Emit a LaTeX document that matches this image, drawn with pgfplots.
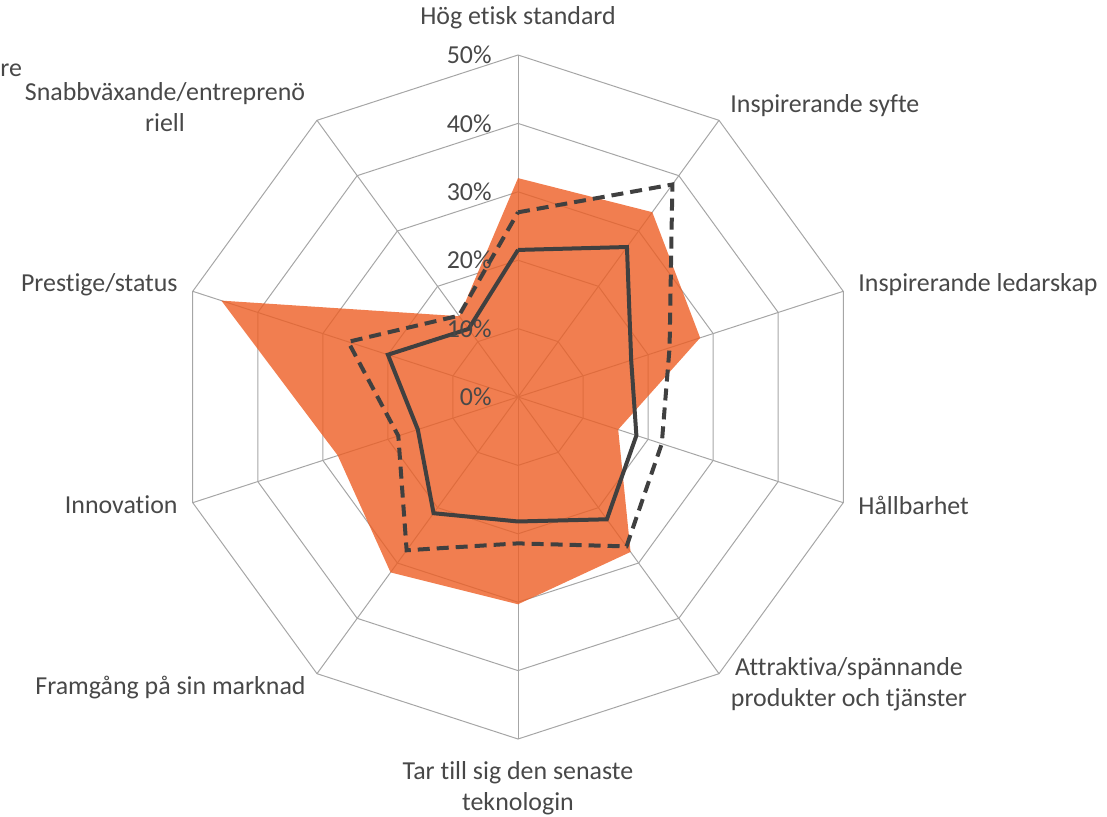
\documentclass[border=0pt]{standalone}
\usepackage{fontspec}
\setmainfont{Carlito}[Ligatures={NoCommon,NoContextual}]
\usepackage{pgfplots}
\usepackage{pgfplotstable}
\pgfplotsset{compat=1.18}

\definecolor{txt}{HTML}{484848}
\definecolor{gridc}{HTML}{A6A6A6}
\definecolor{fillc}{RGB}{237,94,36}
\definecolor{linec}{HTML}{404040}

% values in percent, clockwise from "Hög etisk standard"; last row repeats the first
\pgfplotstableread{
cat area dashed solid
0 32.0 27.0 21.5
1 33.4 38.4 27.1
2 28.0 23.3 17.4
3 15.4 22.1 18.2
4 28.0 27.0 22.1
5 30.3 21.4 18.2
6 31.7 27.7 21.0
7 27.7 18.4 15.4
8 45.6 26.1 20.0
9 14.6 14.7 12.3
10 32.0 27.0 21.5
}\radar

\begin{document}
\begin{tikzpicture}[lab/.style={font=\fontsize{13}{15.5}\selectfont, text=txt, inner sep=0pt}]
\path[use as bounding box] (-259bp,-210bp) rectangle (294.5bp,198.5bp);
\begin{axis}[
    at={(0,0)}, anchor=origin,
    x=3.42bp, y=3.42bp,
    xmin=-50, xmax=50, ymin=-50, ymax=50,
    hide axis, clip=false,
  ]
  % polygon grid
  \pgfplotsinvokeforeach{10,20,30,40,50}{
    \addplot[gridc, line width=0.5bp, no marks] table[
      x expr={#1*cos(90-36*\thisrow{cat})},
      y expr={#1*sin(90-36*\thisrow{cat})}] {\radar};
  }
  \pgfplotsinvokeforeach{0,...,9}{
    \draw[gridc, line width=0.5bp] (axis cs:0,0) -- (axis cs:{50*cos(90-36*#1)},{50*sin(90-36*#1)});
  }
  % series
  \addplot[draw=none, fill=fillc, fill opacity=0.8] table[
      x expr={\thisrow{area}*cos(90-36*\thisrow{cat})},
      y expr={\thisrow{area}*sin(90-36*\thisrow{cat})}] {\radar};
  \addplot[linec, line width=2bp, dash pattern=on 6bp off 3.5bp, no marks] table[
      x expr={\thisrow{dashed}*cos(90-36*\thisrow{cat})},
      y expr={\thisrow{dashed}*sin(90-36*\thisrow{cat})}] {\radar};
  \addplot[linec, line width=2bp, no marks] table[
      x expr={\thisrow{solid}*cos(90-36*\thisrow{cat})},
      y expr={\thisrow{solid}*sin(90-36*\thisrow{cat})}] {\radar};
  % radial tick labels
  \pgfplotsinvokeforeach{0,10,20,30,40,50}{
    \node[lab, anchor=east] at ([xshift=-13bp]axis cs:0,#1) {#1\%};
  }
\end{axis}
% category labels
\node[lab] at (0,189.5bp) {Hög etisk standard};
\node[lab, anchor=west] at (106bp,145.5bp) {Inspirerande syfte};
\node[lab, anchor=west] at (170bp,56bp) {Inspirerande ledarskap};
\node[lab, anchor=west] at (170bp,-54bp) {Hållbarhet};
\node[lab, align=center] at (165.5bp,-143.5bp) {Attraktiva/spännande\\produkter och tjänster};
\node[lab, align=center] at (0,-195.75bp) {Tar till sig den senaste\\teknologin};
\node[lab, anchor=east] at (-106bp,-145.5bp) {Framgång på sin marknad};
\node[lab, anchor=east] at (-170bp,-54bp) {Innovation};
\node[lab, anchor=east] at (-170bp,56bp) {Prestige/status};
\node[lab, align=center] at (-176.5bp,144.75bp) {Snabbväxande/entreprenö\\riell};
\node[lab, anchor=west] at (-259bp,163.5bp) {re};
\end{tikzpicture}
\end{document}
